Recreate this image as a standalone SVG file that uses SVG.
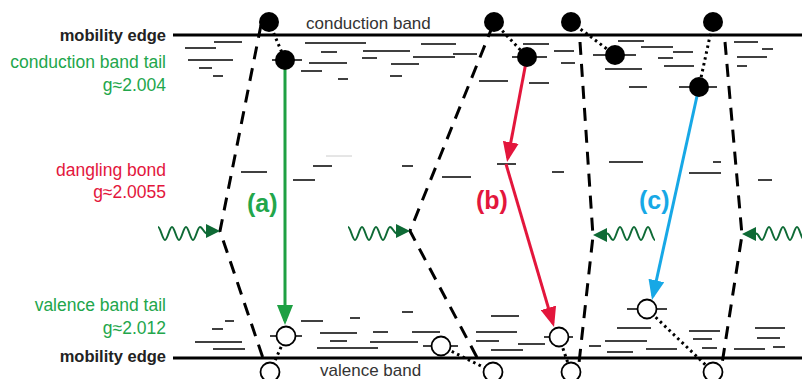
<svg xmlns="http://www.w3.org/2000/svg" width="802" height="379" viewBox="0 0 802 379">
<style>
text{font-family:"Liberation Sans",Arial,sans-serif;}
.edge{font-size:16.5px;font-weight:bold;fill:#222;text-anchor:end}
.lbl{font-size:17.5px;text-anchor:end}
.g{fill:#22a64b}.r{fill:#e3163c}.b{fill:#17a8e6}
.band{font-size:17px;fill:#333}
.tag{font-size:25px;font-weight:bold}
.me{stroke:#000;stroke-width:3}
.lv line{stroke:#000;stroke-width:1.5}
.dash{fill:none;stroke:#000;stroke-width:3;stroke-dasharray:13 9}
.dot{stroke:#000;stroke-width:3;stroke-dasharray:2.5 3.5}
.wave{fill:none;stroke:#0e6a35;stroke-width:2}
.wh{fill:#0e6a35}
.e{fill:#000}
.h{fill:#fff;stroke:#000;stroke-width:1.8}
</style>
<defs>
<marker id="ag" viewBox="0 0 20 16" refX="16" refY="8" markerWidth="20" markerHeight="16" markerUnits="userSpaceOnUse" orient="auto"><path d="M0,0 L20,8 L0,16 z" fill="#1ea043"/></marker>
<marker id="ar" viewBox="0 0 20 16" refX="16" refY="8" markerWidth="20" markerHeight="16" markerUnits="userSpaceOnUse" orient="auto"><path d="M0,0 L20,8 L0,16 z" fill="#e3163c"/></marker>
<marker id="ab" viewBox="0 0 20 16" refX="16" refY="8" markerWidth="20" markerHeight="16" markerUnits="userSpaceOnUse" orient="auto"><path d="M0,0 L20,8 L0,16 z" fill="#17a8e6"/></marker>
</defs>

<g id="mobility-edges">
<line class="me" x1="173" y1="35" x2="802" y2="35"/>
<line class="me" x1="173" y1="358" x2="802" y2="358"/>
</g>

<g id="labels">
<text class="edge" x="166" y="41">mobility edge</text>
<text class="lbl g" x="166" y="68">conduction band tail</text>
<text class="lbl g" x="166" y="91">g≈2.004</text>
<text class="lbl r" x="166" y="176">dangling bond</text>
<text class="lbl r" x="166" y="198">g≈2.0055</text>
<text class="lbl g" x="166" y="311">valence band tail</text>
<text class="lbl g" x="166" y="334">g≈2.012</text>
<text class="edge" x="166" y="362">mobility edge</text>
<text class="band" x="306" y="29">conduction band</text>
<text class="band" x="320" y="376">valence band</text>
<text class="tag g" x="247" y="212">(a)</text>
<text class="tag r" x="476" y="209">(b)</text>
<text class="tag b" x="639" y="209">(c)</text>
</g>

<g id="levels" class="lv">
<line x1="185" y1="48" x2="216" y2="48"/>
<line x1="214" y1="42" x2="242" y2="42"/>
<line x1="188" y1="60" x2="233" y2="60"/>
<line x1="199" y1="68" x2="212" y2="68"/>
<line x1="213" y1="76" x2="223" y2="76"/>
<line x1="272" y1="60" x2="302" y2="60"/>
<line x1="305" y1="43" x2="366" y2="43"/>
<line x1="321" y1="52" x2="337" y2="52"/>
<line x1="309" y1="63" x2="347" y2="63"/>
<line x1="301" y1="71" x2="322" y2="71"/>
<line x1="338" y1="79" x2="348" y2="79"/>
<line x1="363" y1="51" x2="410" y2="51"/>
<line x1="362" y1="58" x2="377" y2="58"/>
<line x1="391" y1="64" x2="419" y2="64"/>
<line x1="390" y1="76" x2="402" y2="76"/>
<line x1="421" y1="44" x2="456" y2="44"/>
<line x1="413" y1="57" x2="455" y2="57"/>
<line x1="453" y1="54" x2="477" y2="54"/>
<line x1="479" y1="81" x2="508" y2="81"/>
<line x1="529" y1="83" x2="549" y2="83"/>
<line x1="512" y1="57" x2="547" y2="57"/>
<line x1="523" y1="44" x2="549" y2="44"/>
<line x1="554" y1="51" x2="574" y2="51"/>
<line x1="561" y1="63" x2="575" y2="63"/>
<line x1="593" y1="55" x2="636" y2="55"/>
<line x1="618" y1="41" x2="644" y2="41"/>
<line x1="641" y1="47" x2="673" y2="47"/>
<line x1="673" y1="52" x2="693" y2="52"/>
<line x1="658" y1="58" x2="673" y2="58"/>
<line x1="605" y1="69" x2="642" y2="69"/>
<line x1="664" y1="66" x2="694" y2="66"/>
<line x1="629" y1="87" x2="647" y2="87"/>
<line x1="679" y1="87" x2="717" y2="87"/>
<line x1="734" y1="42" x2="758" y2="42"/>
<line x1="762" y1="49" x2="773" y2="49"/>
<line x1="737" y1="57" x2="767" y2="57"/>
<line x1="737" y1="66" x2="747" y2="66"/>

<line x1="241" y1="172" x2="267" y2="172"/>
<line x1="293" y1="180" x2="315" y2="180"/>
<line x1="313" y1="166" x2="332" y2="166"/>
<line x1="326" y1="156" x2="352" y2="156" style="stroke:#ccc;stroke-width:1"/>
<line x1="402" y1="166" x2="413" y2="166"/>
<line x1="442" y1="177" x2="471" y2="177"/>
<line x1="497" y1="164" x2="516" y2="164"/>
<line x1="552" y1="172" x2="564" y2="172"/>
<line x1="609" y1="162" x2="643" y2="162"/>
<line x1="689" y1="173" x2="721" y2="173"/>
<line x1="713" y1="162" x2="721" y2="162"/>
<line x1="758" y1="180" x2="772" y2="180"/>

<line x1="225" y1="321" x2="234" y2="321"/>
<line x1="212" y1="329" x2="223" y2="329"/>
<line x1="195" y1="342" x2="242" y2="342"/>
<line x1="213" y1="349" x2="245" y2="349"/>
<line x1="270" y1="336" x2="302" y2="336"/>
<line x1="301" y1="321" x2="323" y2="321"/>
<line x1="350" y1="318" x2="360" y2="318"/>
<line x1="320" y1="333" x2="357" y2="333"/>
<line x1="330" y1="341" x2="347" y2="341"/>
<line x1="317" y1="348" x2="378" y2="348"/>
<line x1="373" y1="332" x2="388" y2="332"/>
<line x1="370" y1="342" x2="418" y2="342"/>
<line x1="402" y1="312" x2="413" y2="312"/>
<line x1="412" y1="332" x2="440" y2="332"/>
<line x1="423" y1="346" x2="458" y2="346"/>
<line x1="491" y1="316" x2="519" y2="316"/>
<line x1="476" y1="332" x2="517" y2="332"/>
<line x1="476" y1="341" x2="499" y2="341"/>
<line x1="491" y1="350" x2="523" y2="350"/>
<line x1="518" y1="344" x2="545" y2="344"/>
<line x1="544" y1="337" x2="573" y2="337"/>
<line x1="589" y1="346" x2="601" y2="346"/>
<line x1="605" y1="341" x2="647" y2="341"/>
<line x1="607" y1="352" x2="633" y2="352"/>
<line x1="617" y1="328" x2="651" y2="328"/>
<line x1="627" y1="309" x2="667" y2="309"/>
<line x1="646" y1="349" x2="677" y2="349"/>
<line x1="689" y1="331" x2="720" y2="331"/>
<line x1="693" y1="339" x2="712" y2="339"/>
<line x1="702" y1="348" x2="717" y2="348"/>
<line x1="755" y1="328" x2="785" y2="328"/>
<line x1="757" y1="338" x2="780" y2="338"/>
<line x1="734" y1="349" x2="765" y2="349"/>
<line x1="773" y1="347" x2="785" y2="347"/>
</g>

<g id="connectors">
<path class="dash" d="M261,25 L220,231 L265,364"/>
<path class="dash" d="M493,25 L410,231 L481,365"/>
<path class="dash" d="M580,42 L593,236 L579,363"/>
<path class="dash" d="M725,42 L742,235 L722,364"/>

<line class="dot" x1="269" y1="22" x2="285" y2="60"/>
<line class="dot" x1="494" y1="22" x2="527" y2="57"/>
<line class="dot" x1="571" y1="22" x2="615" y2="55"/>
<line class="dot" x1="713" y1="22" x2="699" y2="87"/>
<line class="dot" x1="286" y1="336" x2="270" y2="372"/>
<line class="dot" x1="441" y1="346" x2="493" y2="372"/>
<line class="dot" x1="559" y1="337" x2="571" y2="372"/>
<line class="dot" x1="647" y1="309" x2="713" y2="372"/>

<line x1="285" y1="62" x2="285" y2="321" stroke="#1ea043" stroke-width="3" marker-end="url(#ag)"/>
<line x1="527" y1="57" x2="507.8" y2="158.1" stroke="#e3163c" stroke-width="3" marker-end="url(#ar)"/>
<line x1="506" y1="164" x2="552.9" y2="323.2" stroke="#e3163c" stroke-width="3" marker-end="url(#ar)"/>
<line x1="699" y1="87" x2="652.9" y2="296.1" stroke="#17a8e6" stroke-width="3" marker-end="url(#ab)"/>

<path class="wave" d="M158,227 c2.5,0 4.5,13 7,13 s4.5,-13 7,-13 s4.5,13 7,13 s4.5,-13 7,-13 s4.5,13 7,13 s4.5,-13 7,-13 s4,6.5 7,6.5"/>
<polygon class="wh" points="220,231 206,224 206,238"/>
<path class="wave" d="M348,227 c2.5,0 4.5,13 7,13 s4.5,-13 7,-13 s4.5,13 7,13 s4.5,-13 7,-13 s4.5,13 7,13 s4.5,-13 7,-13 s4,6.5 7,6.5"/>
<polygon class="wh" points="410,231 396,224 396,238"/>
<path class="wave" d="M655,240 c-2.5,0 -4.5,-13 -7,-13 s-4.5,13 -7,13 s-4.5,-13 -7,-13 s-4.5,13 -7,13 s-4.5,-13 -7,-13 s-4.5,13 -7,13 s-3,-6.5 -6,-6.5"/>
<polygon class="wh" points="593,235 607,228 607,242"/>
<path class="wave" d="M804,240 c-2.5,0 -4.5,-13 -7,-13 s-4.5,13 -7,13 s-4.5,-13 -7,-13 s-4.5,13 -7,13 s-4.5,-13 -7,-13 s-4.5,13 -7,13 s-3,-6.5 -6,-6.5"/>
<polygon class="wh" points="742,234 756,227 756,241"/>
</g>

<g id="electrons">
<circle class="e" cx="269" cy="22" r="10"/>
<circle class="e" cx="285" cy="60" r="10"/>
<circle class="e" cx="494" cy="22" r="10"/>
<circle class="e" cx="527" cy="57" r="10"/>
<circle class="e" cx="571" cy="22" r="10"/>
<circle class="e" cx="615" cy="55" r="10"/>
<circle class="e" cx="713" cy="22" r="10"/>
<circle class="e" cx="699" cy="87" r="10"/>
</g>

<g id="holes">
<circle class="h" cx="286" cy="336" r="9.5"/>
<circle class="h" cx="270" cy="372" r="9.5"/>
<circle class="h" cx="441" cy="346" r="9.5"/>
<circle class="h" cx="493" cy="372" r="9.5"/>
<circle class="h" cx="559" cy="337" r="9.5"/>
<circle class="h" cx="571" cy="372" r="9.5"/>
<circle class="h" cx="647" cy="309" r="9.5"/>
<circle class="h" cx="713" cy="372" r="9.5"/>
</g>
</svg>
